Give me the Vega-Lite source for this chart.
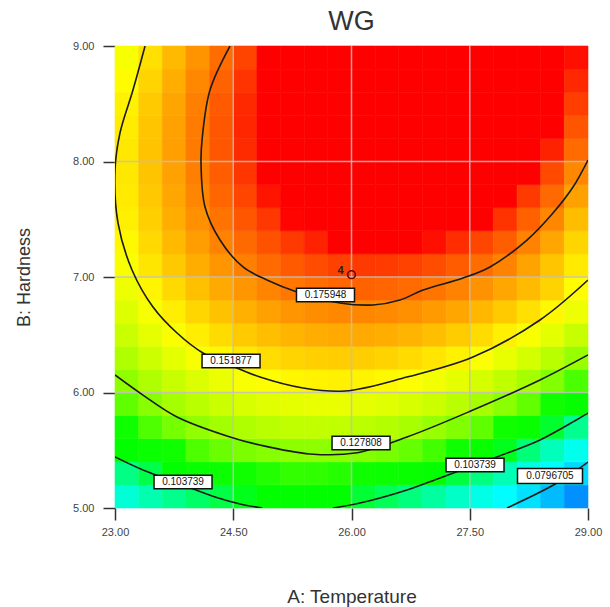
{
"$schema":"https://vega.github.io/schema/vega-lite/v6.json",
"width":473,"height":462,
"autosize":{"type":"none"},
"padding":{"left":115,"top":46,"right":22,"bottom":99},
"background":"white",
"title":{"text":"WG","fontSize":27,"font":"Liberation Sans","fontWeight":"normal","color":"#333333","offset":4},
"config":{"view":{"stroke":null},"font":"Liberation Sans"},
"datasets":{
"cells":[
{"a":23.15,"b":5.1,"v":0.0925},{"a":23.45,"b":5.1,"v":0.0968},{"a":23.75,"b":5.1,"v":0.1004},{"a":24.05,"b":5.1,"v":0.1035},{"a":24.35,"b":5.1,"v":0.1058},{"a":24.65,"b":5.1,"v":0.1076},{"a":24.95,"b":5.1,"v":0.1087},{"a":25.25,"b":5.1,"v":0.1092},{"a":25.55,"b":5.1,"v":0.1089},{"a":25.85,"b":5.1,"v":0.1082},{"a":26.15,"b":5.1,"v":0.1067},{"a":26.45,"b":5.1,"v":0.1046},{"a":26.75,"b":5.1,"v":0.1018},{"a":27.05,"b":5.1,"v":0.0985},{"a":27.35,"b":5.1,"v":0.0945},{"a":27.65,"b":5.1,"v":0.0899},{"a":27.95,"b":5.1,"v":0.0845},{"a":28.25,"b":5.1,"v":0.0787},{"a":28.55,"b":5.1,"v":0.0721},{"a":28.85,"b":5.1,"v":0.0649},
{"a":23.15,"b":5.3,"v":0.1011},{"a":23.45,"b":5.3,"v":0.1055},{"a":23.75,"b":5.3,"v":0.1094},{"a":24.05,"b":5.3,"v":0.1126},{"a":24.35,"b":5.3,"v":0.1152},{"a":24.65,"b":5.3,"v":0.1171},{"a":24.95,"b":5.3,"v":0.1185},{"a":25.25,"b":5.3,"v":0.1192},{"a":25.55,"b":5.3,"v":0.1191},{"a":25.85,"b":5.3,"v":0.1186},{"a":26.15,"b":5.3,"v":0.1173},{"a":26.45,"b":5.3,"v":0.1154},{"a":26.75,"b":5.3,"v":0.1128},{"a":27.05,"b":5.3,"v":0.1097},{"a":27.35,"b":5.3,"v":0.1060},{"a":27.65,"b":5.3,"v":0.1015},{"a":27.95,"b":5.3,"v":0.0964},{"a":28.25,"b":5.3,"v":0.0907},{"a":28.55,"b":5.3,"v":0.0844},{"a":28.85,"b":5.3,"v":0.0773},
{"a":23.15,"b":5.5,"v":0.1089},{"a":23.45,"b":5.5,"v":0.1136},{"a":23.75,"b":5.5,"v":0.1176},{"a":24.05,"b":5.5,"v":0.1211},{"a":24.35,"b":5.5,"v":0.1239},{"a":24.65,"b":5.5,"v":0.1260},{"a":24.95,"b":5.5,"v":0.1276},{"a":25.25,"b":5.5,"v":0.1284},{"a":25.55,"b":5.5,"v":0.1286},{"a":25.85,"b":5.5,"v":0.1283},{"a":26.15,"b":5.5,"v":0.1272},{"a":26.45,"b":5.5,"v":0.1255},{"a":26.75,"b":5.5,"v":0.1232},{"a":27.05,"b":5.5,"v":0.1202},{"a":27.35,"b":5.5,"v":0.1167},{"a":27.65,"b":5.5,"v":0.1124},{"a":27.95,"b":5.5,"v":0.1075},{"a":28.25,"b":5.5,"v":0.1021},{"a":28.55,"b":5.5,"v":0.0959},{"a":28.85,"b":5.5,"v":0.0891},
{"a":23.15,"b":5.7,"v":0.1162},{"a":23.45,"b":5.7,"v":0.1210},{"a":23.75,"b":5.7,"v":0.1253},{"a":24.05,"b":5.7,"v":0.1290},{"a":24.35,"b":5.7,"v":0.1319},{"a":24.65,"b":5.7,"v":0.1343},{"a":24.95,"b":5.7,"v":0.1361},{"a":25.25,"b":5.7,"v":0.1371},{"a":25.55,"b":5.7,"v":0.1375},{"a":25.85,"b":5.7,"v":0.1374},{"a":26.15,"b":5.7,"v":0.1365},{"a":26.45,"b":5.7,"v":0.1350},{"a":26.75,"b":5.7,"v":0.1329},{"a":27.05,"b":5.7,"v":0.1301},{"a":27.35,"b":5.7,"v":0.1268},{"a":27.65,"b":5.7,"v":0.1228},{"a":27.95,"b":5.7,"v":0.1180},{"a":28.25,"b":5.7,"v":0.1128},{"a":28.55,"b":5.7,"v":0.1069},{"a":28.85,"b":5.7,"v":0.1002},
{"a":23.15,"b":5.9,"v":0.1228},{"a":23.45,"b":5.9,"v":0.1279},{"a":23.75,"b":5.9,"v":0.1324},{"a":24.05,"b":5.9,"v":0.1362},{"a":24.35,"b":5.9,"v":0.1394},{"a":24.65,"b":5.9,"v":0.1420},{"a":24.95,"b":5.9,"v":0.1439},{"a":25.25,"b":5.9,"v":0.1452},{"a":25.55,"b":5.9,"v":0.1458},{"a":25.85,"b":5.9,"v":0.1459},{"a":26.15,"b":5.9,"v":0.1452},{"a":26.45,"b":5.9,"v":0.1439},{"a":26.75,"b":5.9,"v":0.1420},{"a":27.05,"b":5.9,"v":0.1395},{"a":27.35,"b":5.9,"v":0.1363},{"a":27.65,"b":5.9,"v":0.1325},{"a":27.95,"b":5.9,"v":0.1280},{"a":28.25,"b":5.9,"v":0.1229},{"a":28.55,"b":5.9,"v":0.1172},{"a":28.85,"b":5.9,"v":0.1108},
{"a":23.15,"b":6.1,"v":0.1289},{"a":23.45,"b":6.1,"v":0.1341},{"a":23.75,"b":6.1,"v":0.1388},{"a":24.05,"b":6.1,"v":0.1429},{"a":24.35,"b":6.1,"v":0.1463},{"a":24.65,"b":6.1,"v":0.1491},{"a":24.95,"b":6.1,"v":0.1512},{"a":25.25,"b":6.1,"v":0.1527},{"a":25.55,"b":6.1,"v":0.1535},{"a":25.85,"b":6.1,"v":0.1538},{"a":26.15,"b":6.1,"v":0.1533},{"a":26.45,"b":6.1,"v":0.1522},{"a":26.75,"b":6.1,"v":0.1505},{"a":27.05,"b":6.1,"v":0.1482},{"a":27.35,"b":6.1,"v":0.1452},{"a":27.65,"b":6.1,"v":0.1416},{"a":27.95,"b":6.1,"v":0.1373},{"a":28.25,"b":6.1,"v":0.1325},{"a":28.55,"b":6.1,"v":0.1270},{"a":28.85,"b":6.1,"v":0.1207},
{"a":23.15,"b":6.3,"v":0.1343},{"a":23.45,"b":6.3,"v":0.1398},{"a":23.75,"b":6.3,"v":0.1447},{"a":24.05,"b":6.3,"v":0.1490},{"a":24.35,"b":6.3,"v":0.1525},{"a":24.65,"b":6.3,"v":0.1555},{"a":24.95,"b":6.3,"v":0.1579},{"a":25.25,"b":6.3,"v":0.1596},{"a":25.55,"b":6.3,"v":0.1606},{"a":25.85,"b":6.3,"v":0.1611},{"a":26.15,"b":6.3,"v":0.1608},{"a":26.45,"b":6.3,"v":0.1599},{"a":26.75,"b":6.3,"v":0.1584},{"a":27.05,"b":6.3,"v":0.1563},{"a":27.35,"b":6.3,"v":0.1536},{"a":27.65,"b":6.3,"v":0.1502},{"a":27.95,"b":6.3,"v":0.1460},{"a":28.25,"b":6.3,"v":0.1414},{"a":28.55,"b":6.3,"v":0.1361},{"a":28.85,"b":6.3,"v":0.1301},
{"a":23.15,"b":6.5,"v":0.1392},{"a":23.45,"b":6.5,"v":0.1449},{"a":23.75,"b":6.5,"v":0.1499},{"a":24.05,"b":6.5,"v":0.1544},{"a":24.35,"b":6.5,"v":0.1582},{"a":24.65,"b":6.5,"v":0.1614},{"a":24.95,"b":6.5,"v":0.1640},{"a":25.25,"b":6.5,"v":0.1659},{"a":25.55,"b":6.5,"v":0.1671},{"a":25.85,"b":6.5,"v":0.1678},{"a":26.15,"b":6.5,"v":0.1677},{"a":26.45,"b":6.5,"v":0.1670},{"a":26.75,"b":6.5,"v":0.1657},{"a":27.05,"b":6.5,"v":0.1638},{"a":27.35,"b":6.5,"v":0.1613},{"a":27.65,"b":6.5,"v":0.1581},{"a":27.95,"b":6.5,"v":0.1542},{"a":28.25,"b":6.5,"v":0.1498},{"a":28.55,"b":6.5,"v":0.1446},{"a":28.85,"b":6.5,"v":0.1388},
{"a":23.15,"b":6.7,"v":0.1433},{"a":23.45,"b":6.7,"v":0.1492},{"a":23.75,"b":6.7,"v":0.1545},{"a":24.05,"b":6.7,"v":0.1592},{"a":24.35,"b":6.7,"v":0.1632},{"a":24.65,"b":6.7,"v":0.1666},{"a":24.95,"b":6.7,"v":0.1694},{"a":25.25,"b":6.7,"v":0.1715},{"a":25.55,"b":6.7,"v":0.1729},{"a":25.85,"b":6.7,"v":0.1738},{"a":26.15,"b":6.7,"v":0.1739},{"a":26.45,"b":6.7,"v":0.1734},{"a":26.75,"b":6.7,"v":0.1723},{"a":27.05,"b":6.7,"v":0.1706},{"a":27.35,"b":6.7,"v":0.1683},{"a":27.65,"b":6.7,"v":0.1653},{"a":27.95,"b":6.7,"v":0.1616},{"a":28.25,"b":6.7,"v":0.1574},{"a":28.55,"b":6.7,"v":0.1525},{"a":28.85,"b":6.7,"v":0.1469},
{"a":23.15,"b":6.9,"v":0.1470},{"a":23.45,"b":6.9,"v":0.1531},{"a":23.75,"b":6.9,"v":0.1586},{"a":24.05,"b":6.9,"v":0.1635},{"a":24.35,"b":6.9,"v":0.1677},{"a":24.65,"b":6.9,"v":0.1713},{"a":24.95,"b":6.9,"v":0.1743},{"a":25.25,"b":6.9,"v":0.1766},{"a":25.55,"b":6.9,"v":0.1782},{"a":25.85,"b":6.9,"v":0.1793},{"a":26.15,"b":6.9,"v":0.1796},{"a":26.45,"b":6.9,"v":0.1793},{"a":26.75,"b":6.9,"v":0.1784},{"a":27.05,"b":6.9,"v":0.1769},{"a":27.35,"b":6.9,"v":0.1748},{"a":27.65,"b":6.9,"v":0.1720},{"a":27.95,"b":6.9,"v":0.1685},{"a":28.25,"b":6.9,"v":0.1645},{"a":28.55,"b":6.9,"v":0.1598},{"a":28.85,"b":6.9,"v":0.1514},
{"a":23.15,"b":7.1,"v":0.1499},{"a":23.45,"b":7.1,"v":0.1562},{"a":23.75,"b":7.1,"v":0.1619},{"a":24.05,"b":7.1,"v":0.1670},{"a":24.35,"b":7.1,"v":0.1714},{"a":24.65,"b":7.1,"v":0.1752},{"a":24.95,"b":7.1,"v":0.1784},{"a":25.25,"b":7.1,"v":0.1809},{"a":25.55,"b":7.1,"v":0.1827},{"a":25.85,"b":7.1,"v":0.1840},{"a":26.15,"b":7.1,"v":0.1847},{"a":26.45,"b":7.1,"v":0.1846},{"a":26.75,"b":7.1,"v":0.1839},{"a":27.05,"b":7.1,"v":0.1826},{"a":27.35,"b":7.1,"v":0.1807},{"a":27.65,"b":7.1,"v":0.1781},{"a":27.95,"b":7.1,"v":0.1748},{"a":28.25,"b":7.1,"v":0.1690},{"a":28.55,"b":7.1,"v":0.1625},{"a":28.85,"b":7.1,"v":0.1553},
{"a":23.15,"b":7.3,"v":0.1523},{"a":23.45,"b":7.3,"v":0.1588},{"a":23.75,"b":7.3,"v":0.1647},{"a":24.05,"b":7.3,"v":0.1700},{"a":24.35,"b":7.3,"v":0.1746},{"a":24.65,"b":7.3,"v":0.1786},{"a":24.95,"b":7.3,"v":0.1820},{"a":25.25,"b":7.3,"v":0.1847},{"a":25.55,"b":7.3,"v":0.1867},{"a":25.85,"b":7.3,"v":0.1882},{"a":26.15,"b":7.3,"v":0.1891},{"a":26.45,"b":7.3,"v":0.1892},{"a":26.75,"b":7.3,"v":0.1887},{"a":27.05,"b":7.3,"v":0.1876},{"a":27.35,"b":7.3,"v":0.1859},{"a":27.65,"b":7.3,"v":0.1835},{"a":27.95,"b":7.3,"v":0.1804},{"a":28.25,"b":7.3,"v":0.1748},{"a":28.55,"b":7.3,"v":0.1685},{"a":28.85,"b":7.3,"v":0.1595},
{"a":23.15,"b":7.5,"v":0.1540},{"a":23.45,"b":7.5,"v":0.1607},{"a":23.75,"b":7.5,"v":0.1669},{"a":24.05,"b":7.5,"v":0.1724},{"a":24.35,"b":7.5,"v":0.1772},{"a":24.65,"b":7.5,"v":0.1814},{"a":24.95,"b":7.5,"v":0.1850},{"a":25.25,"b":7.5,"v":0.1879},{"a":25.55,"b":7.5,"v":0.1901},{"a":25.85,"b":7.5,"v":0.1918},{"a":26.15,"b":7.5,"v":0.1929},{"a":26.45,"b":7.5,"v":0.1932},{"a":26.75,"b":7.5,"v":0.1929},{"a":27.05,"b":7.5,"v":0.1920},{"a":27.35,"b":7.5,"v":0.1905},{"a":27.65,"b":7.5,"v":0.1883},{"a":27.95,"b":7.5,"v":0.1854},{"a":28.25,"b":7.5,"v":0.1800},{"a":28.55,"b":7.5,"v":0.1740},{"a":28.85,"b":7.5,"v":0.1642},
{"a":23.15,"b":7.7,"v":0.1552},{"a":23.45,"b":7.7,"v":0.1621},{"a":23.75,"b":7.7,"v":0.1684},{"a":24.05,"b":7.7,"v":0.1741},{"a":24.35,"b":7.7,"v":0.1792},{"a":24.65,"b":7.7,"v":0.1836},{"a":24.95,"b":7.7,"v":0.1874},{"a":25.25,"b":7.7,"v":0.1905},{"a":25.55,"b":7.7,"v":0.1929},{"a":25.85,"b":7.7,"v":0.1948},{"a":26.15,"b":7.7,"v":0.1961},{"a":26.45,"b":7.7,"v":0.1966},{"a":26.75,"b":7.7,"v":0.1965},{"a":27.05,"b":7.7,"v":0.1958},{"a":27.35,"b":7.7,"v":0.1945},{"a":27.65,"b":7.7,"v":0.1925},{"a":27.95,"b":7.7,"v":0.1899},{"a":28.25,"b":7.7,"v":0.1847},{"a":28.55,"b":7.7,"v":0.1788},{"a":28.85,"b":7.7,"v":0.1692},
{"a":23.15,"b":7.9,"v":0.1557},{"a":23.45,"b":7.9,"v":0.1629},{"a":23.75,"b":7.9,"v":0.1694},{"a":24.05,"b":7.9,"v":0.1753},{"a":24.35,"b":7.9,"v":0.1805},{"a":24.65,"b":7.9,"v":0.1851},{"a":24.95,"b":7.9,"v":0.1892},{"a":25.25,"b":7.9,"v":0.1925},{"a":25.55,"b":7.9,"v":0.1951},{"a":25.85,"b":7.9,"v":0.1972},{"a":26.15,"b":7.9,"v":0.1987},{"a":26.45,"b":7.9,"v":0.1994},{"a":26.75,"b":7.9,"v":0.1995},{"a":27.05,"b":7.9,"v":0.1990},{"a":27.35,"b":7.9,"v":0.1980},{"a":27.65,"b":7.9,"v":0.1962},{"a":27.95,"b":7.9,"v":0.1937},{"a":28.25,"b":7.9,"v":0.1887},{"a":28.55,"b":7.9,"v":0.1830},{"a":28.85,"b":7.9,"v":0.1737},
{"a":23.15,"b":8.1,"v":0.1557},{"a":23.45,"b":8.1,"v":0.1630},{"a":23.75,"b":8.1,"v":0.1697},{"a":24.05,"b":8.1,"v":0.1759},{"a":24.35,"b":8.1,"v":0.1813},{"a":24.65,"b":8.1,"v":0.1861},{"a":24.95,"b":8.1,"v":0.1904},{"a":25.25,"b":8.1,"v":0.1939},{"a":25.55,"b":8.1,"v":0.1967},{"a":25.85,"b":8.1,"v":0.1990},{"a":26.15,"b":8.1,"v":0.2007},{"a":26.45,"b":8.1,"v":0.2016},{"a":26.75,"b":8.1,"v":0.2019},{"a":27.05,"b":8.1,"v":0.2016},{"a":27.35,"b":8.1,"v":0.2008},{"a":27.65,"b":8.1,"v":0.1992},{"a":27.95,"b":8.1,"v":0.1969},{"a":28.25,"b":8.1,"v":0.1922},{"a":28.55,"b":8.1,"v":0.1867},{"a":28.85,"b":8.1,"v":0.1785},
{"a":23.15,"b":8.3,"v":0.1549},{"a":23.45,"b":8.3,"v":0.1625},{"a":23.75,"b":8.3,"v":0.1694},{"a":24.05,"b":8.3,"v":0.1757},{"a":24.35,"b":8.3,"v":0.1814},{"a":24.65,"b":8.3,"v":0.1864},{"a":24.95,"b":8.3,"v":0.1908},{"a":25.25,"b":8.3,"v":0.1946},{"a":25.55,"b":8.3,"v":0.1976},{"a":25.85,"b":8.3,"v":0.2001},{"a":26.15,"b":8.3,"v":0.2020},{"a":26.45,"b":8.3,"v":0.2031},{"a":26.75,"b":8.3,"v":0.2036},{"a":27.05,"b":8.3,"v":0.2036},{"a":27.35,"b":8.3,"v":0.2029},{"a":27.65,"b":8.3,"v":0.2015},{"a":27.95,"b":8.3,"v":0.1995},{"a":28.25,"b":8.3,"v":0.1949},{"a":28.55,"b":8.3,"v":0.1896},{"a":28.85,"b":8.3,"v":0.1817},
{"a":23.15,"b":8.5,"v":0.1537},{"a":23.45,"b":8.5,"v":0.1614},{"a":23.75,"b":8.5,"v":0.1686},{"a":24.05,"b":8.5,"v":0.1751},{"a":24.35,"b":8.5,"v":0.1809},{"a":24.65,"b":8.5,"v":0.1862},{"a":24.95,"b":8.5,"v":0.1908},{"a":25.25,"b":8.5,"v":0.1948},{"a":25.55,"b":8.5,"v":0.1980},{"a":25.85,"b":8.5,"v":0.2007},{"a":26.15,"b":8.5,"v":0.2028},{"a":26.45,"b":8.5,"v":0.2041},{"a":26.75,"b":8.5,"v":0.2048},{"a":27.05,"b":8.5,"v":0.2050},{"a":27.35,"b":8.5,"v":0.2045},{"a":27.65,"b":8.5,"v":0.2034},{"a":27.95,"b":8.5,"v":0.2015},{"a":28.25,"b":8.5,"v":0.1971},{"a":28.55,"b":8.5,"v":0.1921},{"a":28.85,"b":8.5,"v":0.1843},
{"a":23.15,"b":8.7,"v":0.1517},{"a":23.45,"b":8.7,"v":0.1597},{"a":23.75,"b":8.7,"v":0.1670},{"a":24.05,"b":8.7,"v":0.1738},{"a":24.35,"b":8.7,"v":0.1798},{"a":24.65,"b":8.7,"v":0.1853},{"a":24.95,"b":8.7,"v":0.1901},{"a":25.25,"b":8.7,"v":0.1942},{"a":25.55,"b":8.7,"v":0.1977},{"a":25.85,"b":8.7,"v":0.2006},{"a":26.15,"b":8.7,"v":0.2029},{"a":26.45,"b":8.7,"v":0.2044},{"a":26.75,"b":8.7,"v":0.2054},{"a":27.05,"b":8.7,"v":0.2057},{"a":27.35,"b":8.7,"v":0.2054},{"a":27.65,"b":8.7,"v":0.2045},{"a":27.95,"b":8.7,"v":0.2028},{"a":28.25,"b":8.7,"v":0.1987},{"a":28.55,"b":8.7,"v":0.1938},{"a":28.85,"b":8.7,"v":0.1863},
{"a":23.15,"b":8.9,"v":0.1492},{"a":23.45,"b":8.9,"v":0.1573},{"a":23.75,"b":8.9,"v":0.1649},{"a":24.05,"b":8.9,"v":0.1718},{"a":24.35,"b":8.9,"v":0.1781},{"a":24.65,"b":8.9,"v":0.1837},{"a":24.95,"b":8.9,"v":0.1888},{"a":25.25,"b":8.9,"v":0.1931},{"a":25.55,"b":8.9,"v":0.1968},{"a":25.85,"b":8.9,"v":0.1999},{"a":26.15,"b":8.9,"v":0.2024},{"a":26.45,"b":8.9,"v":0.2041},{"a":26.75,"b":8.9,"v":0.2053},{"a":27.05,"b":8.9,"v":0.2058},{"a":27.35,"b":8.9,"v":0.2058},{"a":27.65,"b":8.9,"v":0.2050},{"a":27.95,"b":8.9,"v":0.2036},{"a":28.25,"b":8.9,"v":0.1996},{"a":28.55,"b":8.9,"v":0.1950},{"a":28.85,"b":8.9,"v":0.1876}
],
"contours":[
{"seg":"c1","o":1,"a":24.459,"b":9.0},{"seg":"c1","o":2,"a":24.205,"b":8.619},{"seg":"c1","o":3,"a":24.104,"b":8.186},{"seg":"c1","o":4,"a":24.091,"b":7.987},{"seg":"c1","o":5,"a":24.142,"b":7.606},{"seg":"c1","o":6,"a":24.332,"b":7.32},{"seg":"c1","o":7,"a":24.624,"b":7.087},{"seg":"c1","o":8,"a":24.928,"b":6.974},{"seg":"c1","o":9,"a":25.309,"b":6.87},{"seg":"c1","o":10,"a":25.854,"b":6.775},{"seg":"c1","o":11,"a":26.273,"b":6.758},{"seg":"c1","o":12,"a":26.615,"b":6.801},{"seg":"c1","o":13,"a":26.907,"b":6.887},{"seg":"c1","o":14,"a":27.415,"b":6.991},{"seg":"c1","o":15,"a":27.757,"b":7.087},{"seg":"c1","o":16,"a":28.226,"b":7.32},{"seg":"c1","o":17,"a":28.556,"b":7.554},{"seg":"c1","o":18,"a":28.81,"b":7.779},{"seg":"c1","o":19,"a":29.0,"b":8.013},
{"seg":"c2","o":1,"a":23.381,"b":9.0},{"seg":"c2","o":2,"a":23.228,"b":8.619},{"seg":"c2","o":3,"a":23.063,"b":8.247},{"seg":"c2","o":4,"a":23.0,"b":7.926},{"seg":"c2","o":5,"a":23.038,"b":7.468},{"seg":"c2","o":6,"a":23.216,"b":7.061},{"seg":"c2","o":7,"a":23.482,"b":6.74},{"seg":"c2","o":8,"a":23.787,"b":6.515},{"seg":"c2","o":9,"a":24.116,"b":6.342},{"seg":"c2","o":10,"a":24.459,"b":6.238},{"seg":"c2","o":11,"a":24.839,"b":6.134},{"seg":"c2","o":12,"a":25.385,"b":6.039},{"seg":"c2","o":13,"a":25.918,"b":6.013},{"seg":"c2","o":14,"a":26.704,"b":6.134},{"seg":"c2","o":15,"a":27.541,"b":6.307},{"seg":"c2","o":16,"a":28.391,"b":6.628},{"seg":"c2","o":17,"a":29.0,"b":6.974},
{"seg":"c3","o":1,"a":23.0,"b":6.152},{"seg":"c3","o":2,"a":23.355,"b":5.978},{"seg":"c3","o":3,"a":23.787,"b":5.788},{"seg":"c3","o":4,"a":24.459,"b":5.615},{"seg":"c3","o":5,"a":24.839,"b":5.545},{"seg":"c3","o":6,"a":25.474,"b":5.468},{"seg":"c3","o":7,"a":26.045,"b":5.476},{"seg":"c3","o":8,"a":26.704,"b":5.615},{"seg":"c3","o":9,"a":27.541,"b":5.848},{"seg":"c3","o":10,"a":28.391,"b":6.108},{"seg":"c3","o":11,"a":29.0,"b":6.325},
{"seg":"c4a","o":1,"a":23.0,"b":5.442},{"seg":"c4a","o":2,"a":23.355,"b":5.329},{"seg":"c4a","o":3,"a":23.825,"b":5.208},{"seg":"c4a","o":4,"a":24.269,"b":5.095},{"seg":"c4a","o":5,"a":24.586,"b":5.035},{"seg":"c4a","o":6,"a":24.865,"b":5.0},
{"seg":"c4b","o":1,"a":25.765,"b":5.0},{"seg":"c4b","o":2,"a":26.108,"b":5.043},{"seg":"c4b","o":3,"a":26.704,"b":5.156},{"seg":"c4b","o":4,"a":27.123,"b":5.26},{"seg":"c4b","o":5,"a":27.567,"b":5.372},{"seg":"c4b","o":6,"a":28.011,"b":5.485},{"seg":"c4b","o":7,"a":28.391,"b":5.589},{"seg":"c4b","o":8,"a":29.0,"b":5.822},
{"seg":"c5","o":1,"a":27.973,"b":5.0},{"seg":"c5","o":2,"a":28.607,"b":5.216},{"seg":"c5","o":3,"a":29.0,"b":5.398}
],
"labels":[
{"t":"0.175948","a":25.67,"b":6.844},
{"t":"0.151877","a":24.472,"b":6.273},
{"t":"0.127808","a":26.121,"b":5.563},
{"t":"0.103739","a":23.863,"b":5.225},
{"t":"0.103739","a":27.567,"b":5.372},
{"t":"0.0796705","a":28.518,"b":5.277}
],
"vgrid":[{"a":24.5},{"a":26},{"a":27.5}],
"hgrid":[{"b":6},{"b":7},{"b":8}],
"design":[{"a":26,"b":7.02,"n":"4"}]
},
"layer":[
{
"data":{"name":"cells"},
"mark":{"type":"rect","strokeWidth":0.6},
"encoding":{
"x":{"field":"a","type":"ordinal","axis":null,"scale":{"paddingInner":0,"paddingOuter":0}},
"y":{"field":"b","type":"ordinal","sort":"descending","axis":null,"scale":{"paddingInner":0,"paddingOuter":0}},
"color":{"field":"v","type":"quantitative","legend":null,"scale":{"domain":[0.055,0.085,0.108,0.118,0.151,0.188],"range":["#0040ff","#00ffff","#00ff00","#10ff00","#ffff00","#ff0000"],"clamp":true}},
"stroke":{"field":"v","type":"quantitative","legend":null,"scale":{"domain":[0.055,0.085,0.108,0.118,0.151,0.188],"range":["#0040ff","#00ffff","#00ff00","#10ff00","#ffff00","#ff0000"],"clamp":true}}
}
},
{
"layer":[
{
"data":{"name":"vgrid"},
"mark":{"type":"rule","color":"#c0c0c0","strokeWidth":1.5,"opacity":0.85},
"encoding":{"x":{"field":"a","type":"quantitative"}}
},
{
"data":{"name":"hgrid"},
"mark":{"type":"rule","color":"#c0c0c0","strokeWidth":1.5,"opacity":0.85},
"encoding":{"y":{"field":"b","type":"quantitative"}}
},
{
"data":{"name":"contours"},
"mark":{"type":"line","color":"#1a1a1a","strokeWidth":1.6,"interpolate":"catmull-rom","clip":true},
"encoding":{
"x":{"field":"a","type":"quantitative","scale":{"domain":[23,29],"nice":false,"zero":false},
"axis":{"title":"A: Temperature","orient":"bottom","values":[23,24.5,26,27.5,29],"format":".2f","grid":false,"domain":false,"ticks":true,"tickSize":12,"tickColor":"#333333","tickWidth":1.5,"labelFont":"Liberation Sans","labelFontSize":11,"labelColor":"#444444","labelPadding":6,"labelFlush":false,"titleFont":"Liberation Sans","titleFontSize":19,"titleFontWeight":"normal","titleColor":"#333333","titlePadding":50}},
"y":{"field":"b","type":"quantitative","scale":{"domain":[5,9],"nice":false,"zero":false},
"axis":{"title":"B: Hardness","orient":"left","values":[5,6,7,8,9],"format":".2f","grid":false,"domain":false,"ticks":true,"tickSize":12,"tickColor":"#333333","tickWidth":1.5,"labelFont":"Liberation Sans","labelFontSize":11,"labelColor":"#444444","labelPadding":9,"labelFlush":false,"titleFont":"Liberation Sans","titleFontSize":18,"titleFontWeight":"normal","titleColor":"#333333","titlePadding":39}},
"detail":{"field":"seg"},
"order":{"field":"o","type":"quantitative"}
}
},
{
"data":{"name":"labels"},
"mark":{"type":"point","shape":"M-1,-0.23L1,-0.23L1,0.23L-1,0.23Z","filled":true,"fill":"white","stroke":"#111111","strokeWidth":1.5,"opacity":1},
"encoding":{
"x":{"field":"a","type":"quantitative"},
"y":{"field":"b","type":"quantitative"},
"size":{"condition":{"test":"datum.t === '0.0796705'","value":4225},"value":3364}
}
},
{
"data":{"name":"labels"},
"mark":{"type":"text","font":"Liberation Sans","fontSize":10,"color":"#111111","baseline":"middle","align":"center"},
"encoding":{
"x":{"field":"a","type":"quantitative"},
"y":{"field":"b","type":"quantitative"},
"text":{"field":"t"}
}
},
{
"data":{"name":"design"},
"mark":{"type":"point","shape":"circle","filled":false,"stroke":"#6a0000","strokeWidth":1.6,"size":60,"opacity":1},
"encoding":{
"x":{"field":"a","type":"quantitative"},
"y":{"field":"b","type":"quantitative"}
}
},
{
"data":{"name":"design"},
"mark":{"type":"text","font":"Liberation Sans","fontSize":11,"fontWeight":"bold","color":"#222222","dx":-11,"dy":-4},
"encoding":{
"x":{"field":"a","type":"quantitative"},
"y":{"field":"b","type":"quantitative"},
"text":{"field":"n"}
}
}
]
}
],
"resolve":{"scale":{"x":"independent","y":"independent"}}
}
